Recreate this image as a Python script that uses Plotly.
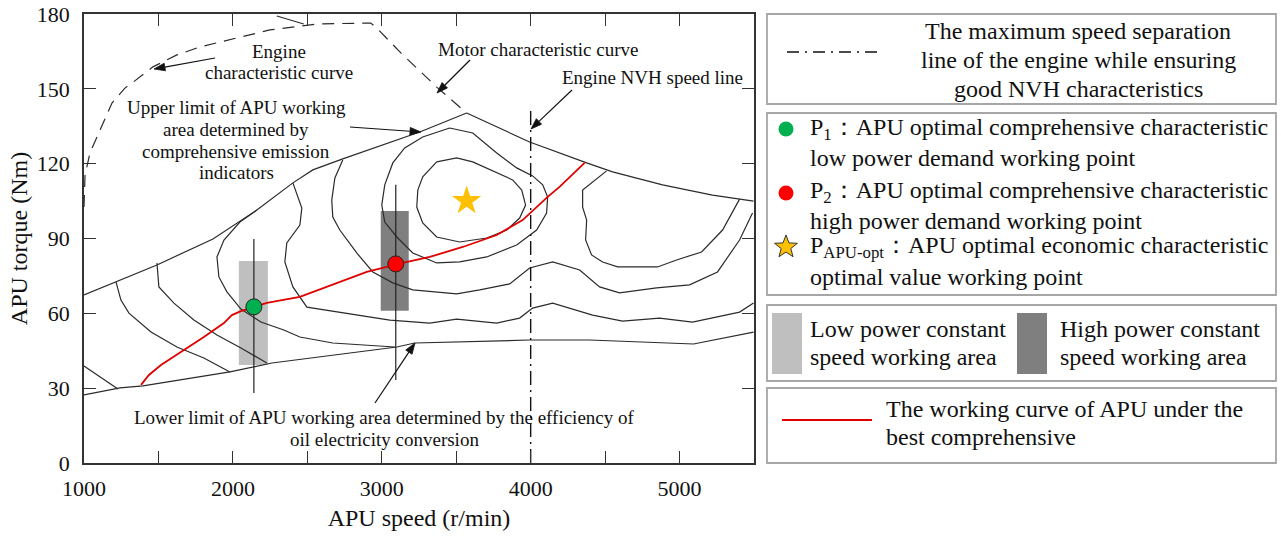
import math
import plotly.graph_objects as go

W, H = 1281, 536

# ---------------- data (APU speed r/min, torque Nm) ----------------
engine_curve_x = [1000, 1007, 1040, 1107, 1188, 1275, 1322, 1463, 1624, 1779, 2027, 2248, 2564, 2926, 2966, 3128, 3369, 3570]
engine_curve_y = [102.6, 115.5, 124.3, 133.5, 144.3, 150.3, 152.3, 158.8, 163.6, 166.8, 170.4, 173.6, 176.0, 176.4, 174.4, 164.4, 150.7, 140.3]

top_seg_x = [2295, 2476]
top_seg_y = [179.2, 176.0]

upper_limit_x = [1000, 1490, 1866, 2161, 2403, 2537, 2738, 3255, 3570]
upper_limit_y = [67.4, 79.4, 89.8, 101.4, 112.3, 117.5, 121.9, 132.7, 140.3]

motor_limit_x = [3570, 3993, 4376, 4550, 4886, 5221, 5497]
motor_limit_y = [140.3, 128.7, 120.3, 116.7, 111.5, 107.4, 105.0]

lower_limit_x = [1000, 1242, 1396, 1980, 2262, 3101, 3221, 3993, 4396, 5094, 5497]
lower_limit_y = [27.3, 30.1, 30.9, 36.5, 40.1, 46.5, 48.1, 49.3, 49.3, 47.7, 52.5]

c1_x = [1000, 1228]
c1_y = [38.9, 29.7]
c2_x = [1215, 1248, 1302, 1450, 1624, 1805, 1980]
c2_y = [72.6, 65.3, 60.1, 52.5, 46.5, 42.1, 36.5]
c3_x = [1490, 1503, 1604, 1738, 1893, 2054, 2228]
c3_y = [80.2, 70.6, 64.1, 57.3, 51.3, 46.1, 40.1]
c4_x = [2161, 2047, 1940, 1893, 1906, 1960, 2054, 2188, 2342, 2450, 2671, 3087]
c4_y = [101.4, 96.6, 89.4, 82.6, 74.6, 68.6, 61.7, 56.5, 53.3, 50.5, 48.1, 46.5]
c5_x = [2403, 2463, 2450, 2362, 2349, 2403, 2497, 2765, 3054, 3322, 3503, 3772, 3926, 4013, 4148, 4416, 4617, 4866, 5087, 5403, 5497]
c5_y = [112.3, 102.2, 95.4, 88.2, 80.6, 70.6, 62.5, 60.1, 57.3, 56.1, 57.7, 56.1, 58.1, 62.1, 64.1, 59.3, 56.9, 58.1, 56.5, 60.5, 64.1]
c6_x = [2738, 2685, 2664, 2671, 2718, 2832, 2940, 3074, 3208, 3342, 3503, 3658, 3859, 3993, 4148, 4329, 4463, 4597, 4846, 5067, 5255, 5403, 5490]
c6_y = [121.5, 114.3, 105.4, 98.6, 93.4, 84.2, 76.6, 72.2, 69.4, 68.6, 67.8, 69.4, 71.8, 78.2, 80.6, 77.4, 70.6, 68.2, 70.2, 71.4, 76.6, 89.4, 100.2]
c7_x = [3456, 3611, 3772, 3906, 4013, 4081, 4114, 4107, 4040, 3906, 3705, 3523, 3369, 3208, 3101, 3020, 3000, 3020, 3074, 3154, 3275, 3456]
c7_y = [134.3, 132.3, 124.3, 118.3, 115.1, 111.5, 106.6, 100.2, 93.4, 87.4, 82.6, 80.6, 80.2, 84.2, 90.6, 96.6, 103.4, 111.5, 120.3, 126.3, 130.7, 134.3]
c8_x = [3369, 3503, 3611, 3772, 3879, 3940, 3966, 3926, 3839, 3705, 3523, 3369, 3275, 3235, 3242, 3275, 3369]
c8_y = [120.7, 122.3, 120.7, 116.3, 113.5, 109.4, 103.4, 98.2, 93.4, 90.2, 88.6, 90.6, 96.2, 102.6, 109.4, 114.7, 120.7]
c9_x = [4510, 4349, 4349, 4376, 4369, 4409, 4483, 4584, 4852, 4980, 5148, 5289, 5403]
c9_y = [117.1, 109.4, 102.6, 97.4, 89.4, 83.4, 80.6, 78.6, 78.6, 81.4, 84.6, 93.4, 105.8]

working_curve_x = [1383, 1436, 1517, 1651, 1805, 1940, 1993, 2054, 2141, 2228, 2450, 2671, 2899, 3033, 3094, 3141, 3322, 3544, 3772, 3946, 4114, 4194, 4362]
working_curve_y = [31.3, 35.3, 39.3, 44.5, 50.5, 56.1, 59.3, 60.9, 62.6, 64.2, 66.6, 71.4, 76.6, 78.6, 79.8, 80.2, 82.6, 86.6, 91.4, 97.4, 106.7, 110.7, 120.3]

nvh_speed = 4000
nvh_torque = [0, 142.3]

low_area_x = [2040, 2235]
low_area_y = [39.3, 81.0]
low_line_x = 2141
low_line_y = [28.1, 89.8]
high_area_x = [2993, 3181]
high_area_y = [61.0, 101.0]
high_line_x = 3094
high_line_y = [33.3, 111.5]

p1 = (2141, 62.6)
p2 = (3094, 79.8)
p_opt = (3570, 105.1)

x_major_ticks = [1000, 2000, 3000, 4000, 5000]
x_minor_ticks = [1500, 2500, 3500, 4500]
y_ticks = [0, 30, 60, 90, 120, 150, 180]

# ---------------- figure ----------------
FONT = "Liberation Serif"
LC = "#2b2b2b"
TC = "#111"
fig = go.Figure()


def add_line(x, y, color=LC, width=1.2, dash="solid"):
    fig.add_trace(go.Scatter(x=x, y=y, mode="lines",
                             line=dict(color=color, width=width, dash=dash),
                             hoverinfo="skip", showlegend=False))


def add_rect(xs, ys, color):
    fig.add_trace(go.Scatter(x=[xs[0], xs[1], xs[1], xs[0], xs[0]],
                             y=[ys[0], ys[0], ys[1], ys[1], ys[0]],
                             mode="lines", fill="toself", fillcolor=color,
                             line=dict(width=0, color=color),
                             hoverinfo="skip", showlegend=False))


add_rect(low_area_x, low_area_y, "#bfbfbf")
add_rect(high_area_x, high_area_y, "#7f7f7f")

add_line(engine_curve_x, engine_curve_y, dash="12px,8px")
add_line(top_seg_x, top_seg_y)
add_line(upper_limit_x, upper_limit_y)
add_line(motor_limit_x, motor_limit_y)
add_line(lower_limit_x, lower_limit_y)
for cx, cy in [(c1_x, c1_y), (c2_x, c2_y), (c3_x, c3_y), (c4_x, c4_y), (c5_x, c5_y),
               (c6_x, c6_y), (c7_x, c7_y), (c8_x, c8_y), (c9_x, c9_y)]:
    add_line(cx, cy)

add_line([nvh_speed, nvh_speed], nvh_torque, color=TC, width=1.4, dash="14px,5px,2px,5px")
add_line([low_line_x, low_line_x], low_line_y, color="#222", width=1.2)
add_line([high_line_x, high_line_x], high_line_y, color="#222", width=1.2)
add_line(working_curve_x, working_curve_y, color="#e00000", width=1.8)

fig.add_trace(go.Scatter(x=[p1[0]], y=[p1[1]], mode="markers",
                         marker=dict(size=16, color="#00b050", line=dict(color="#222", width=1)),
                         hoverinfo="skip", showlegend=False))
fig.add_trace(go.Scatter(x=[p2[0]], y=[p2[1]], mode="markers",
                         marker=dict(size=16, color="#ff0000", line=dict(color="#222", width=1)),
                         hoverinfo="skip", showlegend=False))
fig.add_trace(go.Scatter(x=[p_opt[0]], y=[p_opt[1]], mode="markers",
                         marker=dict(size=22, symbol="star", color="#ffc000", line=dict(color="#ffc000", width=0)),
                         hoverinfo="skip", showlegend=False))


# ---------------- legend panel & annotations (pixel positions -> paper) ----------------
def PX(px):
    return px / W


def PY(py):
    return 1 - py / H


shapes = []


def prect(x0, y0, x1, y1, line=None, fill="rgba(0,0,0,0)"):
    shapes.append(dict(type="rect", xref="paper", yref="paper", x0=PX(x0), x1=PX(x1), y0=PY(y1), y1=PY(y0),
                       line=line or dict(width=0), fillcolor=fill))


def pline(x0, y0, x1, y1, color=TC, width=1.2, dash="solid"):
    shapes.append(dict(type="line", xref="paper", yref="paper", x0=PX(x0), y0=PY(y0), x1=PX(x1), y1=PY(y1),
                       line=dict(color=color, width=width, dash=dash)))


def ppoly(pts, fill, lcolor, lwidth):
    d = "M " + " L ".join(f"{PX(x):.5f},{PY(y):.5f}" for x, y in pts) + " Z"
    shapes.append(dict(type="path", xref="paper", yref="paper", path=d, fillcolor=fill,
                       line=dict(color=lcolor, width=lwidth)))


def pcircle(cx, cy, r, fill):
    shapes.append(dict(type="circle", xref="paper", yref="paper", x0=PX(cx - r), x1=PX(cx + r),
                       y0=PY(cy + r), y1=PY(cy - r), fillcolor=fill, line=dict(width=0)))


def pstar(cx, cy, R, fill):
    pts = []
    for i in range(10):
        rad = R if i % 2 == 0 else R * 0.42
        a = -math.pi / 2 + i * math.pi / 5
        pts.append((cx + rad * math.cos(a), cy + rad * math.sin(a)))
    ppoly(pts, fill, "#333", 1)


for (y0, y1) in [(14, 104), (113, 295), (305, 381), (388, 463)]:
    prect(767, y0, 1276, y1, line=dict(color="#a6a6a6", width=1.8))
pline(787, 52, 882, 52, color=TC, width=1.6, dash="12px,6px,2px,6px")
pcircle(786, 129, 7.5, "#00b050")
pcircle(786, 193, 7.5, "#ff0000")
pstar(786, 247, 12, "#ffc000")
prect(772, 313, 802, 374, fill="#bfbfbf")
prect(1017, 313, 1047, 374, fill="#7f7f7f")
pline(782, 420, 872, 420, color="#e00000", width=2)


def arrow(tail, head, length=11, half=3.8):
    dx, dy = head[0] - tail[0], head[1] - tail[1]
    L = math.hypot(dx, dy)
    ux, uy = dx / L, dy / L
    bx, by = head[0] - ux * length, head[1] - uy * length
    px, py = -uy * half, ux * half
    pline(tail[0], tail[1], bx, by, color=TC, width=1.2)
    ppoly([head, (bx + px, by + py), (bx - px, by - py)], TC, TC, 0.8)


ann = []


def text(x, y, s, size, xanchor="center"):
    ann.append(dict(x=PX(x), y=PY(y), xref="paper", yref="paper", text=s, showarrow=False,
                    xanchor=xanchor, yanchor="middle", align="left" if xanchor == "left" else "center",
                    font=dict(family=FONT, size=size, color=TC)))


def lines(x, ys, strs, size, xanchor="center"):
    for y, s in zip(ys, strs):
        text(x, y, s, size, xanchor)


# chart annotations
AS = 19
lines(279, [51, 73], ["Engine", "characteristic curve"], AS)
arrow((215, 58), (154, 69))
text(538, 50, "Motor characteristic curve", AS)
arrow((470, 60), (437, 93))
text(652, 77, "Engine NVH speed line", AS)
arrow((572, 90), (531, 129))
lines(236, [107, 129, 152, 173], ["Upper limit of APU working", "area determined by",
                                  "comprehensive emission", "indicators"], AS)
arrow((350, 127), (421, 132))
lines(384, [417, 439], ["Lower limit of APU working area determined by the efficiency of",
                        "oil electricity conversion"], AS)
arrow((375, 403), (415, 343))

# legend texts
LS = 24
lines(1078, [31, 60, 89], ["The maximum speed separation", "line of the engine while ensuring",
                           "good NVH characteristics"], LS)
lines(808, [129, 158], ["P<sub>1</sub>：APU optimal comprehensive characteristic",
                        "low power demand working point"], LS, "left")
lines(808, [192, 221], ["P<sub>2</sub>：APU optimal comprehensive characteristic",
                        "high power demand working point"], LS, "left")
lines(808, [247, 277], ["P<sub>APU-opt</sub>：APU optimal economic characteristic",
                        "optimal value working point"], LS, "left")
lines(808, [329, 357], ["Low power constant", "speed working area"], LS, "left")
lines(1058, [329, 357], ["High power constant", "speed working area"], LS, "left")
lines(884, [409, 437], ["The working curve of APU under the", "best comprehensive"], LS, "left")

axis_common = dict(showline=True, linecolor="#333", linewidth=1.5, mirror="ticks",
                   ticks="inside", ticklen=12, tickwidth=1.2, tickcolor="#333",
                   showgrid=False, zeroline=False,
                   tickfont=dict(family=FONT, size=22, color=TC))

fig.update_layout(
    width=W, height=H, template="none",
    margin=dict(l=0, r=0, t=0, b=0, pad=0),
    paper_bgcolor="white", plot_bgcolor="rgba(0,0,0,0)",
    font=dict(family=FONT, color=TC),
    showlegend=False,
    xaxis=dict(domain=[84 / W, 754 / W], range=[1000, 5500], tickmode="array",
               tickvals=x_major_ticks, ticklabelstandoff=5,
               minor=dict(tickvals=x_minor_ticks, ticks="inside", ticklen=12, tickwidth=1.2, tickcolor="#333", showgrid=False),
               title=dict(text="APU speed (r/min)", font=dict(family=FONT, size=24), standoff=9),
               automargin=False, **axis_common),
    yaxis=dict(domain=[1 - 463 / H, 1 - 14 / H], range=[0, 180], tickmode="array",
               tickvals=y_ticks, ticklabelstandoff=8,
               title=dict(text="APU torque (Nm)", font=dict(family=FONT, size=24), standoff=2),
               automargin=False, **axis_common),
    shapes=shapes,
    annotations=ann,
)

fig.write_html("out.html", config={"displayModeBar": False})
